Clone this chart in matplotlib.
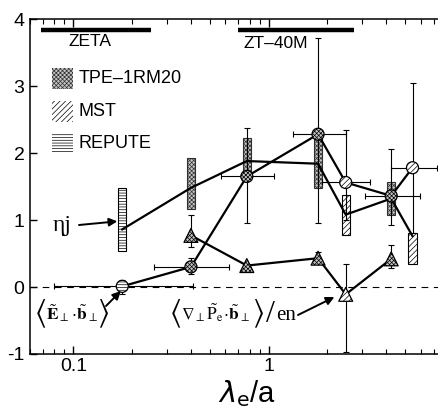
import matplotlib
matplotlib.use('Agg')
import matplotlib.pyplot as plt
from matplotlib.patches import Rectangle
from matplotlib.ticker import FixedLocator, FixedFormatter, NullFormatter
import numpy as np

plt.rcParams['font.family'] = ['Liberation Sans', 'DejaVu Sans']
plt.rcParams['axes.unicode_minus'] = False
plt.rcParams['hatch.linewidth'] = 0.5

# ---------------- data ----------------
# machine ranges (lambda_e/a)
machines = ['ZETA', 'ZT–40M']
machine_lo = [0.068, 0.70]
machine_hi = [0.249, 2.75]
machine_y = 3.84

# eta*j bars (rectangles) and eta*j values
bar_x = [0.178, 0.40, 0.773, 1.79, 2.48, 4.24, 5.45]
bar_lo = [0.54, 1.17, 1.68, 1.48, 0.78, 1.08, 0.34]
bar_hi = [1.48, 1.93, 2.23, 2.25, 1.38, 1.56, 0.81]
bar_dev = ['REPUTE', 'TPE', 'TPE', 'TPE', 'MST', 'TPE', 'MST']
etaj = [0.86, 1.48, 1.88, 1.84, 1.08, 1.32, 0.76]

# <E.b> circles
c_x = [0.178, 0.40, 0.773, 1.79, 2.48, 4.24, 5.45]
c_y = [0.01, 0.30, 1.65, 2.28, 1.56, 1.36, 1.78]
c_xlo = [0.0796, 0.259, 0.570, 1.34, 1.88, 3.13, 4.24]
c_xhi = [0.408, 0.624, 1.07, 2.49, 3.31, 5.98, 7.27]
c_ylo = [-0.10, 0.19, 0.95, 0.96, 1.00, 0.92, 0.80]
c_yhi = [0.10, 0.44, 2.38, 3.72, 2.34, 2.06, 3.05]
c_dev = ['REPUTE', 'TPE', 'TPE', 'TPE', 'MST', 'TPE', 'MST']

# <grad P . b>/en triangles
t_x = [0.40, 0.773, 1.79, 2.48, 4.24]
t_y = [0.77, 0.32, 0.43, -0.11, 0.42]
t_ylo = [0.60, 0.32, 0.36, -0.97, 0.29]
t_yhi = [1.07, 0.32, 0.52, 0.34, 0.63]
t_dev = ['TPE', 'TPE', 'TPE', 'MST', 'TPE']

legend_labels = ['TPE–1RM20', 'MST', 'REPUTE']
legend_keys = ['TPE', 'MST', 'REPUTE']

ytick_vals = [-1, 0, 1, 2, 3, 4]
ytick_labels = ['-1', '0', '1', '2', '3', '4']
xtick_vals = [0.1, 1]
xtick_labels = ['0.1', '1']

# ---------------- styles ----------------
styles = {
    'TPE': dict(facecolor='#c4c4c4', edgecolor='#303030', hatch='xxxxxxxx'),
    'MST': dict(facecolor='white', edgecolor='black', hatch='//////'),
    'REPUTE': dict(facecolor='white', edgecolor='black', hatch='------'),
}

W, H = 439, 412
fig = plt.figure(figsize=(W / 100, H / 100), dpi=100)
ax = fig.add_axes([30 / W, (H - 354) / H, (464 - 30) / W, (354 - 19) / H])
ax.set_xscale('log')
ax.set_xlim(0.06, 10)
ax.set_ylim(-1, 4)


def ftext(x, y, s, **kw):
    """text placed in reference pixel coordinates (from top-left)."""
    return fig.text(x / W, 1 - y / H, s, **kw)


# zero dashed line
ax.axhline(0, color='black', lw=0.8, ls=(0, (6, 5)), zorder=1)

# machine ranges
for name, lo, hi in zip(machines, machine_lo, machine_hi):
    ax.plot([lo, hi], [machine_y, machine_y], color='black', lw=3.2,
            solid_capstyle='butt', zorder=3)
ftext(90, 42, machines[0], ha='center', va='center', fontsize=12.5)
ftext(276, 43, machines[1], ha='center', va='center', fontsize=12.5)

# bars
d = 4.2 / 195.0
for x, lo, hi, dev in zip(bar_x, bar_lo, bar_hi, bar_dev):
    left = x * 10 ** (-d)
    right = x * 10 ** d
    ax.bar(left, hi - lo, width=right - left, bottom=lo, align='edge',
           lw=0.8, zorder=2, **styles[dev])

ax.plot(bar_x, etaj, color='black', lw=1.6, zorder=3)

# circles
c_x_a = np.array(c_x); c_y_a = np.array(c_y)
ax.errorbar(c_x, c_y,
            xerr=[c_x_a - np.array(c_xlo), np.array(c_xhi) - c_x_a],
            yerr=[c_y_a - np.array(c_ylo), np.array(c_yhi) - c_y_a],
            fmt='none', ecolor='black', elinewidth=0.8, capsize=2,
            capthick=0.8, zorder=2.5)
ax.plot(c_x, c_y, color='black', lw=1.6, zorder=3)
for x, y, dev in zip(c_x, c_y, c_dev):
    st = styles[dev]
    ax.scatter([x], [y], s=75, marker='o', facecolor=st['facecolor'],
               edgecolor='black', hatch=st['hatch'], linewidths=0.9, zorder=4)

# triangles
t_x_a = np.array(t_x); t_y_a = np.array(t_y)
ax.errorbar(t_x, t_y,
            yerr=[t_y_a - np.array(t_ylo), np.array(t_yhi) - t_y_a],
            fmt='none', ecolor='black', elinewidth=0.8, capsize=2,
            capthick=0.8, zorder=2.5)
ax.plot(t_x, t_y, color='black', lw=1.6, zorder=3)
for x, y, dev in zip(t_x, t_y, t_dev):
    st = styles[dev]
    ax.scatter([x], [y], s=100, marker='^', facecolor=st['facecolor'],
               edgecolor='black', hatch=st['hatch'], linewidths=0.9, zorder=4)

# legend (manual)
for i, (lab, key) in enumerate(zip(legend_labels, legend_keys)):
    y0 = [68, 101, 133][i]
    y1 = [89, 122, 153][i]
    st = styles[key]
    r = Rectangle((52 / W, 1 - y1 / H), 21 / W, (y1 - y0) / H,
                  transform=fig.transFigure, facecolor=st['facecolor'],
                  edgecolor=st['edgecolor'], hatch=st['hatch'], lw=0)
    fig.patches.append(r)
    ftext(79, (y0 + y1) / 2, lab, ha='left', va='center', fontsize=13)

# annotations
arrow_kw = dict(arrowstyle='-|>', lw=1.4, color='black',
                mutation_scale=12, shrinkA=0, shrinkB=0)

ftext(62, 226, 'ηj', ha='center', va='center', fontsize=17,
      family='Liberation Serif')
ax.annotate('', xy=(0.168, 0.98), xycoords='data',
            xytext=(79, H - 225), textcoords='figure pixels',
            arrowprops=arrow_kw)

bk = dict(ha='center', va='center', fontsize=22, math_fontfamily='stix')
mk = dict(ha='center', va='center', fontsize=12.5, math_fontfamily='stix')

# <E . b>
ftext(40, 314, r'$\langle$', **bk)
ftext(72, 313, r'$\tilde{\mathbf{E}}_{\perp}\!\cdot\!\tilde{\mathbf{b}}_{\perp}$', **mk)
ftext(103, 314, r'$\rangle$', **bk)
ax.annotate('', xy=(0.175, -0.06), xycoords='data',
            xytext=(106, H - 306), textcoords='figure pixels',
            arrowprops=arrow_kw)

# <grad P . b>/en
ftext(175, 314, r'$\langle$', **bk)
ftext(216, 313, r'$\nabla_{\perp}\tilde{\mathrm{P}}_{\mathrm{e}}\!\cdot\!\tilde{\mathbf{b}}_{\perp}$', **mk)
ftext(258, 314, r'$\rangle$', **bk)
ftext(270, 314, '/', ha='center', va='center', fontsize=23,
      family='Liberation Serif')
ftext(286, 316, 'en', ha='center', va='center', fontsize=15,
      family='Liberation Serif')
ax.annotate('', xy=(2.17, -0.15), xycoords='data',
            xytext=(298, H - 315), textcoords='figure pixels',
            arrowprops=arrow_kw)

# axes styling
for s in ['left', 'bottom', 'top', 'right']:
    ax.spines[s].set_linewidth(1.1)
ax.yaxis.set_major_locator(FixedLocator(ytick_vals))
ax.yaxis.set_major_formatter(FixedFormatter(ytick_labels))
ax.xaxis.set_major_locator(FixedLocator(xtick_vals))
ax.xaxis.set_major_formatter(FixedFormatter(xtick_labels))
ax.xaxis.set_minor_formatter(NullFormatter())
ax.tick_params(axis='x', which='major', direction='in', top=True,
               length=6, width=1.0, labelsize=14, pad=3)
ax.tick_params(axis='x', which='minor', direction='in', top=True,
               length=3.5, width=0.8)
ax.tick_params(axis='y', which='major', direction='in', left=True,
               right=False, length=5, width=1.0, labelsize=14, pad=4)
ax.tick_params(axis='y', which='minor', left=False, right=False)

ax.set_xlabel(r'$\lambda_{\mathrm{e}}$/a', fontsize=21,
              math_fontfamily='dejavusans', labelpad=2)

fig.savefig('out.png', dpi=100)
